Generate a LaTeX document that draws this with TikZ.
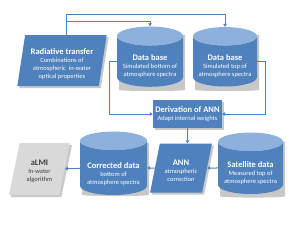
\documentclass[tikz,border=0pt]{standalone}
\usepackage{fontspec}
\setmainfont{Carlito}
\usetikzlibrary{arrows.meta,shapes.geometric,shadows}
\definecolor{FlowBlue} {RGB}{79,129,189}
\definecolor{FlowLight}{RGB}{141,176,220}
\definecolor{FlowGrey} {RGB}{217,217,217}
\definecolor{FlowText} {RGB}{64,64,64}
\definecolor{FlowShade}{RGB}{200,200,200}
% title line, optional strut height pushes the text block down
\newcommand{\boxtitle}[2][0pt]{{\fontsize{8.5}{10}\selectfont\bfseries\rule{0pt}{#1}#2}}

\begin{document}
\begin{tikzpicture}[x=1pt,y=-1pt,
  softshadow/.style={drop shadow={shadow xshift=2pt,shadow yshift=-2pt,
    opacity=1,fill=FlowShade}},
  boxtext/.style={align=center,inner sep=0pt,font=\fontsize{6.5}{8}\selectfont},
  dbase ghost/.style={cylinder,shape border rotate=90,aspect=0.35,
    fill=FlowShade,xshift=2pt,yshift=-2pt},
  dbase/.style={cylinder,shape border rotate=90,aspect=0.35,
    cylinder uses custom fill,cylinder body fill=FlowBlue,
    cylinder end fill=FlowLight,text=white,boxtext},
  slant/.style={trapezium,trapezium stretches=true,fill=FlowBlue,
    text=white,boxtext,softshadow},
  step box/.style={rectangle,fill=FlowBlue,text=white,boxtext,softshadow},
  link/.style={FlowBlue,line width=1pt,-{Triangle[length=3pt,width=3.5pt]}}]
  \useasboundingbox (0,0) rectangle (300,225);
  % helper heights for the top feedback lines
  \coordinate (top1) at (0,14);
  \coordinate (top2) at (0,21);
  % Data stores (shadow copy first, then the cylinder)
  \foreach \nm/\pos/\cylw/\cylh/\txt in {
    db1/{150,61.5}/66/57/{\boxtitle[14.5pt]{Data base}\\Simulated bottom of\\atmosphere spectra},
    db2/{225,61.5}/64/57/{\boxtitle[14.5pt]{Data base}\\Simulated top of\\atmosphere spectra},
    sat/{250.5,168}/65/57/{\boxtitle[16.5pt]{Satellite data}\\Measured top of\\atmosphere spectra},
    corr/{113.5,168}/67/54/{\boxtitle[18.5pt]{Corrected data}\\bottom of\\atmosphere spectra}}
  {
    \node[dbase ghost,minimum width=\cylw,minimum height=\cylh] at (\pos) {};
    \node[dbase,minimum width=\cylw,minimum height=\cylh] (\nm) at (\pos) {\txt};
  }
  % Processing steps
  \node[slant,trapezium left angle=80,trapezium right angle=100,
        minimum width=90,minimum height=51] (rt) at (62,60.5)
       {\boxtitle[12.5pt]{Radiative transfer}\\Combinations of\\atmospheric\ \ in-water\\optical properties};
  \node[step box,minimum width=69,minimum height=28] (der) at (187.5,114)
       {\boxtitle{Derivation of ANN}\\Adapt internal weights};
  \node[slant,trapezium left angle=74,trapezium right angle=106,
        minimum width=62,minimum height=49] (ann) at (181,168)
       {\boxtitle[10.5pt]{ANN}\\atmospheric\\correction};
  \node[slant,fill=FlowGrey,text=FlowText,trapezium left angle=76,
        trapezium right angle=104,minimum width=61,minimum height=52]
       (almi) at (39.5,169) {\boxtitle[10.5pt]{aLMI}\\In-water\\algorithm};
  % Connectors
  \draw[link] ([xshift=4pt]rt.north) |- (db2.north |- top1) -- (db2.north);
  \draw[link] ([xshift=4pt]rt.north |- top2) -| (db1.north);
  \draw[link] (db1.west) -- ++(-7,0) |- (der.west);
  \draw[link] (db2.east) -- ++(8,0) |- (der.east);
  \draw[link] (der.south) -- (der.south |- ann.north);
  \draw[link] (sat) -- (ann);
  \draw[link] (ann) -- (corr);
  \draw[link] (corr) -- (almi);
\end{tikzpicture}
\end{document}
